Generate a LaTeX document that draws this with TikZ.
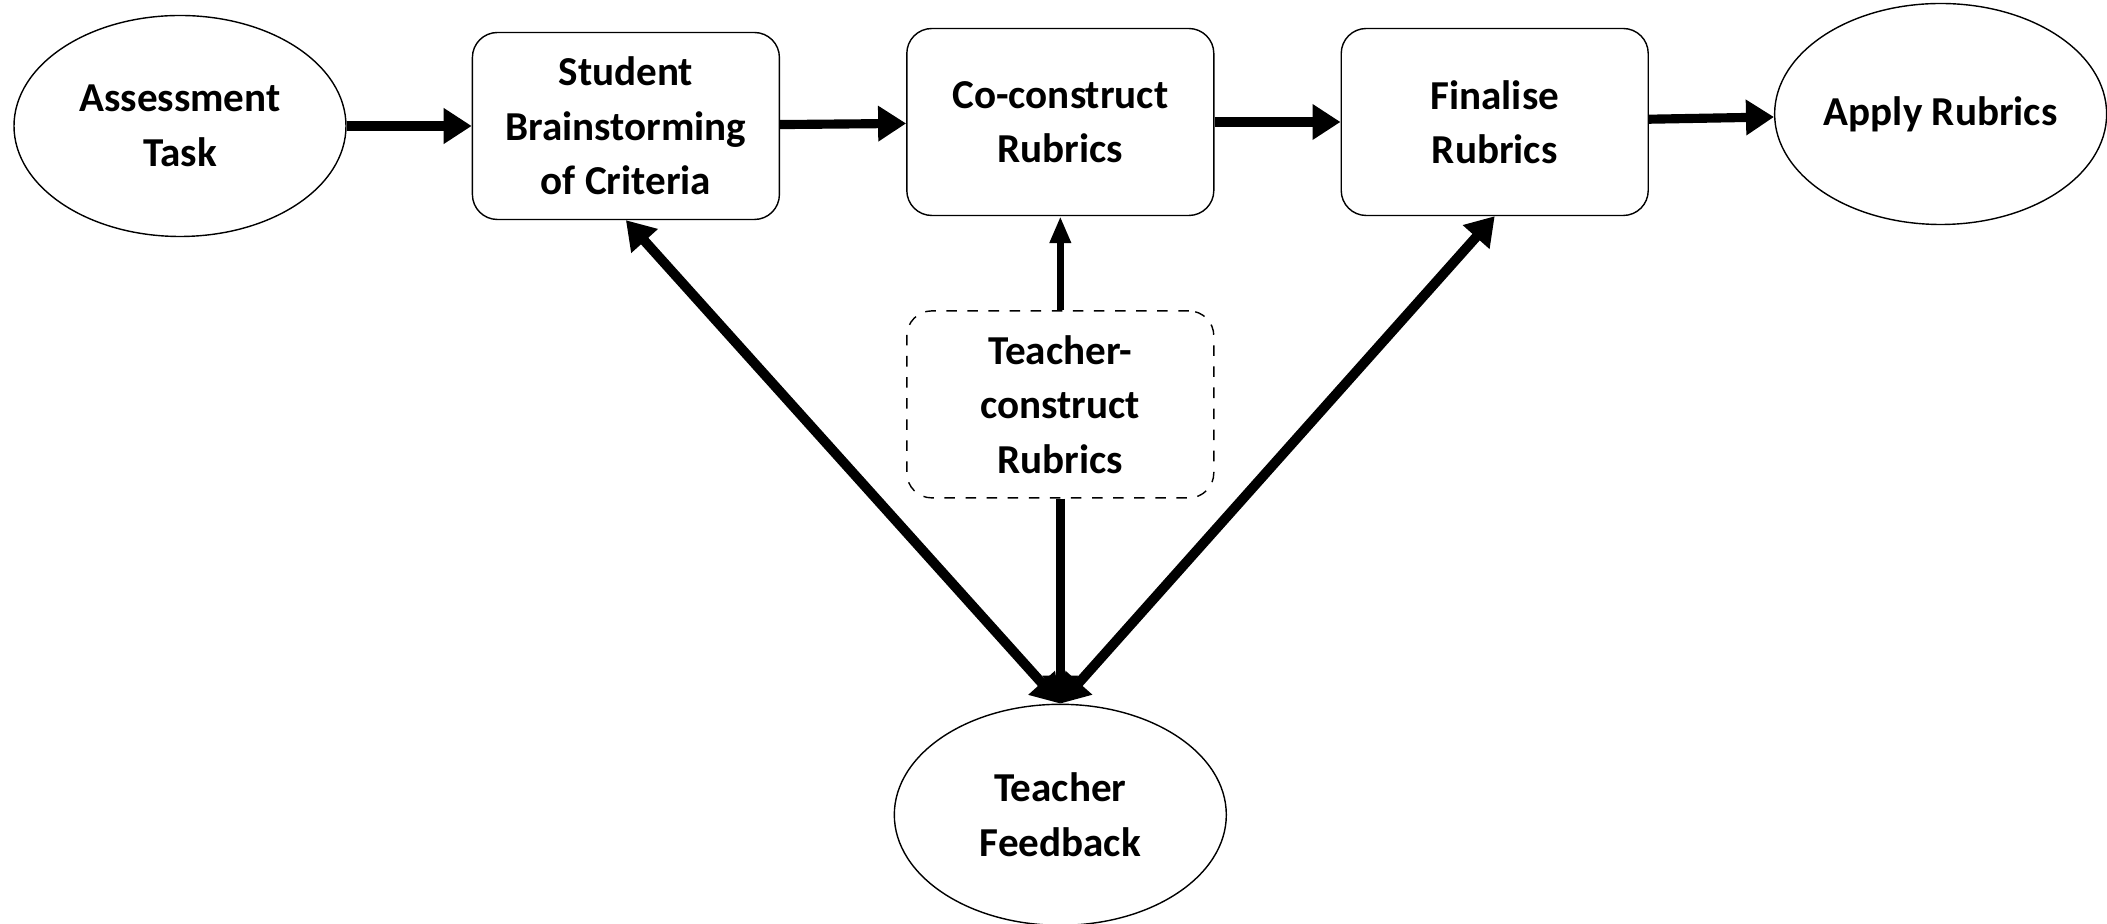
\documentclass[tikz,border=0pt]{standalone}
\usepackage{fontspec}
\setmainfont{Carlito}
\usepackage{tikz}
\usetikzlibrary{arrows.meta,positioning,shapes.geometric}
\tikzset{
  block/.style={rounded corners=0.25cm, draw, thin, align=center, fill=white, minimum width=3.07cm, minimum height=1.87cm, font=\fontsize{11.7}{15.5}\selectfont\bfseries},
  oval/.style={ellipse, draw, thin, align=center, fill=white, inner sep=0pt, minimum width=3.32cm, minimum height=2.21cm, font=\fontsize{11.7}{15.5}\selectfont\bfseries},
  optional/.style={block, dashed},
  line/.style={-{Triangle[length=0.28cm,width=0.34cm]}, line width=2.6pt},
  twoway/.style={{Triangle[length=0.28cm,width=0.34cm]}-{Triangle[length=0.28cm,width=0.34cm]}, line width=2.8pt},
  upline/.style={-{Triangle[length=0.27cm,width=0.2cm]}, line width=2pt}
}
\begin{document}
\begin{tikzpicture}[node distance=1.26cm]
  \useasboundingbox (0,0) rectangle (21.07,9.24);
  \node[oval] (task) at (1.80,7.98) {Assessment\\Task};
  \node[block, right=1.25cm of task] (brain) {Student\\Brainstorming\\of Criteria};
  \node[block, right=of brain, yshift=0.04cm] (coru) {Co-construct\\Rubrics};
  \node[block, right=of coru] (finru) {Finalise\\Rubrics};
  \node[oval, right=1.25cm of finru, yshift=0.08cm] (apply) {Apply Rubrics};
  \node[optional, below=0.94cm of coru] (tcru) {Teacher-\\construct\\Rubrics};
  \node[oval, below=2.05cm of tcru] (feed) {Teacher\\Feedback};

  \draw[line] (task) -- (brain);
  \draw[line] (brain) -- (coru);
  \draw[line] (coru) -- (finru);
  \draw[line] (finru) -- (apply);
  \draw[upline] (tcru) -- (coru);
  \draw[line] (tcru) -- (feed.north);
  \draw[twoway] (feed.north) -- (brain.south);
  \draw[twoway] (feed.north) -- (finru.south);
\end{tikzpicture}
\end{document}
